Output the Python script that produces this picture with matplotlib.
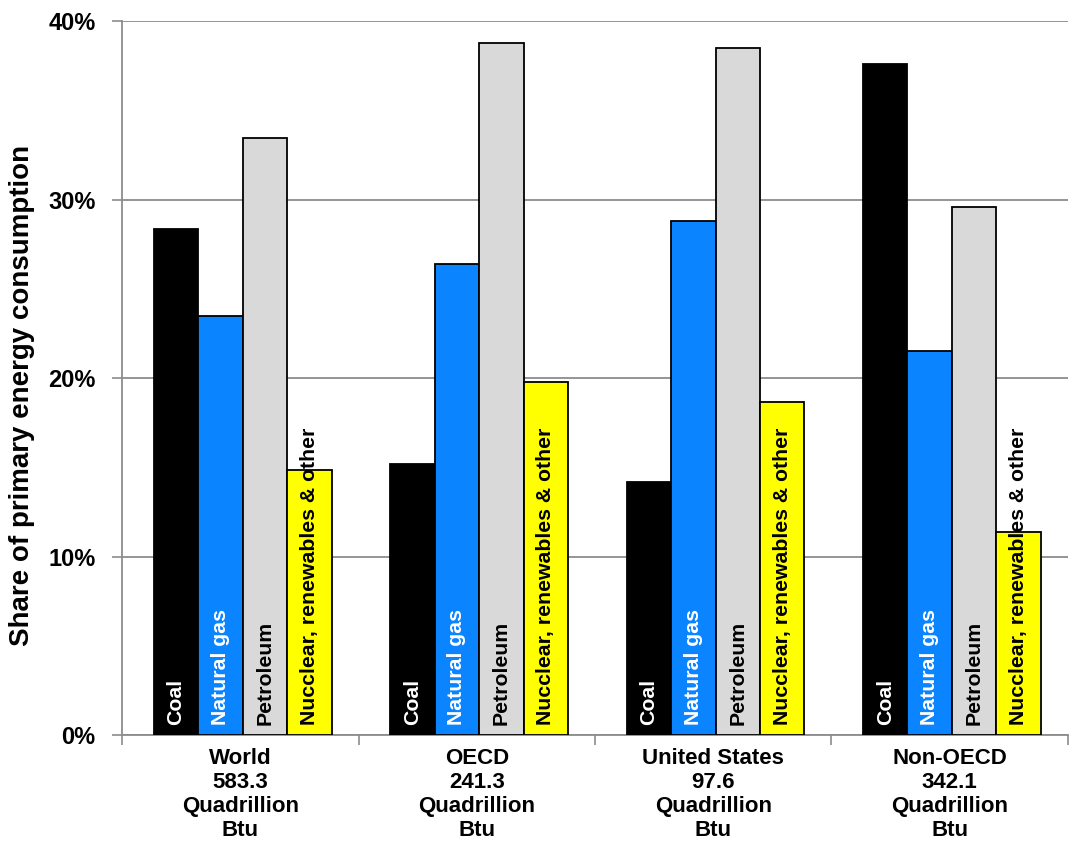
import matplotlib
matplotlib.use("Agg")
import matplotlib.pyplot as plt
import numpy as np

plt.rcParams['font.family'] = ['Liberation Sans', 'DejaVu Sans']

# regions and totals
regions = ["World\n583.3\nQuadrillion\nBtu",
           "OECD\n241.3\nQuadrillion\nBtu",
           "United States\n97.6\nQuadrillion\nBtu",
           "Non-OECD\n342.1\nQuadrillion\nBtu"]

# share of primary energy consumption (%)
coal = [28.35, 15.2, 14.2, 37.6]
natural_gas = [23.5, 26.4, 28.8, 21.5]
petroleum = [33.45, 38.8, 38.5, 29.6]
nuclear_other = [14.85, 19.8, 18.65, 11.4]

series = [("Coal", coal, "black", "white"),
          ("Natural gas", natural_gas, "#0A84FF", "white"),
          ("Petroleum", petroleum, "#D9D9D9", "black"),
          ("Nucclear, renewables & other", nuclear_other, "#FFFF00", "black")]

fig = plt.figure(figsize=(10.71, 8.46), dpi=100)
ax = fig.add_axes([0.114, 0.131, 0.883, 0.844])

x = np.arange(len(regions))
w = 0.188
for i, (name, vals, col, tcol) in enumerate(series):
    pos = x + 0.01 + (i - 1.5) * w
    ax.bar(pos, vals, width=w, color=col, edgecolor="black", linewidth=1.3, zorder=3)
    for p in pos:
        ax.text(p, 0.55, name, rotation=90, ha="center", va="bottom",
                color=tcol, fontsize=15.3, fontweight="bold", zorder=4)

ax.set_xlim(-0.5, 3.5)
ax.set_ylim(0, 40)
ax.set_yticks([0, 10, 20, 30, 40])
ax.set_yticklabels(["0%", "10%", "20%", "30%", "40%"], fontsize=17, fontweight="bold")
ax.yaxis.grid(True, color="#8c8c8c", linewidth=1.3, zorder=0)
ax.tick_params(axis="y", length=7, width=1.2, color="#8c8c8c", pad=12)

# category labels with boundary ticks
ax.set_xticks(x)
ax.set_xticklabels(regions, fontsize=16, fontweight="bold", linespacing=1.2)
ax.tick_params(axis="x", length=0, pad=9)
ax.set_xticks(np.arange(-0.5, 4.0, 1.0), minor=True)
ax.tick_params(axis="x", which="minor", length=7, width=1.2, color="#8c8c8c")

for s in ["top", "right"]:
    ax.spines[s].set_visible(False)
for s in ["left", "bottom"]:
    ax.spines[s].set_color("#8c8c8c")
    ax.spines[s].set_linewidth(1.3)

fig.text(0.021, 0.532, "Share of primary energy consumption", rotation=90,
         ha="center", va="center", fontsize=20, fontweight="bold")

fig.savefig("out.png", dpi=100)
